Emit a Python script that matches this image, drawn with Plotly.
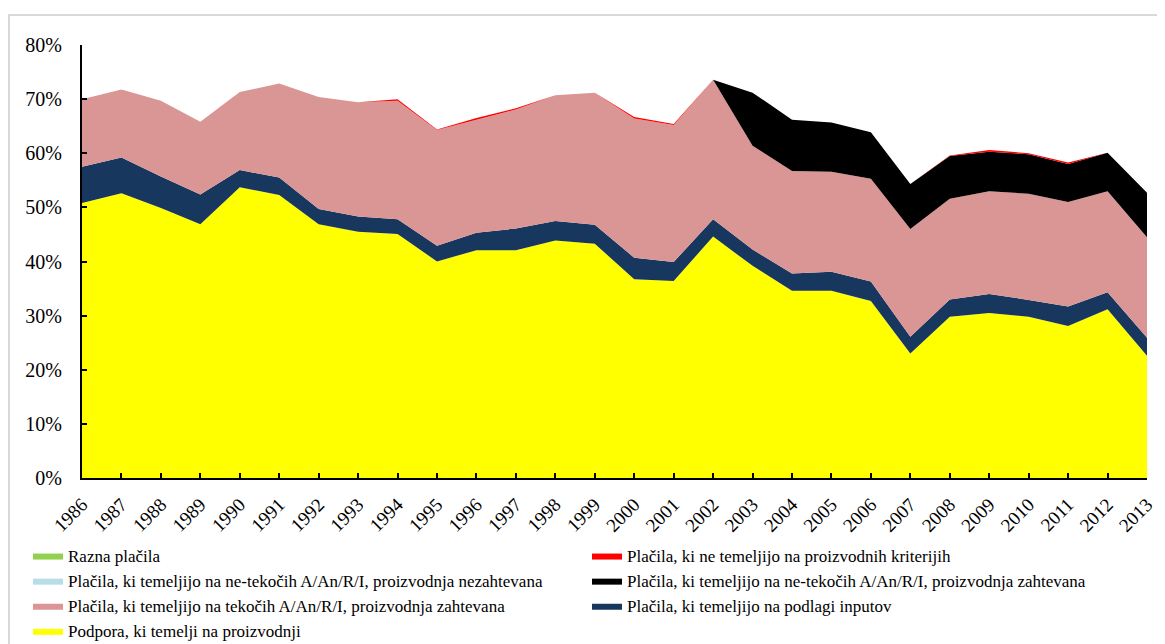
import plotly.graph_objects as go

years = list(range(1986, 2014))
tick_labels = [str(y) for y in years]

# Series values (% share)
podpora = [50.8, 52.6, 49.9, 46.9, 53.7, 52.3, 46.9, 45.5, 45.1, 40.0, 42.1, 42.1, 43.9, 43.3,
           36.7, 36.4, 44.6, 39.2, 34.6, 34.6, 32.7, 23.0, 29.8, 30.5, 29.8, 28.1, 31.2, 22.6]
inputi = [6.7, 6.6, 5.8, 5.5, 3.2, 3.2, 2.8, 2.8, 2.7, 2.9, 3.2, 4.0, 3.6, 3.5,
          4.0, 3.5, 3.2, 3.0, 3.2, 3.5, 3.6, 3.1, 3.2, 3.5, 3.1, 3.6, 3.1, 3.3]
tekoci = [12.5, 12.6, 14.0, 13.4, 14.4, 17.4, 20.7, 21.1, 21.9, 21.4, 20.9, 22.0, 23.2, 24.4,
          25.7, 25.3, 25.8, 19.2, 18.9, 18.5, 19.0, 19.9, 18.6, 19.0, 19.6, 19.3, 18.7, 18.6]
netekoci_zaht = [0, 0, 0, 0, 0, 0, 0, 0, 0, 0, 0, 0, 0, 0,
                 0, 0, 0, 9.8, 9.5, 9.1, 8.6, 8.3, 7.9, 7.3, 7.3, 7.0, 7.1, 8.2]
netekoci_nezaht = [0] * 28
ne_proizv = [0, 0, 0, 0, 0, 0, 0, 0, 0.3, 0.1, 0.3, 0.2, 0, 0,
             0.3, 0.2, 0, 0, 0, 0, 0, 0, 0.1, 0.3, 0.2, 0.3, 0, 0]
razna = [0] * 28

series = [
    ("Podpora, ki temelji na proizvodnji", podpora, "#FFFF00", 7),
    ("Plačila, ki temeljijo na podlagi inputov", inputi, "#17375E", 6),
    ("Plačila, ki temeljijo na tekočih A/An/R/I, proizvodnja zahtevana", tekoci, "#D99694", 5),
    ("Plačila, ki temeljijo na ne-tekočih A/An/R/I, proizvodnja zahtevana", netekoci_zaht, "#000000", 4),
    ("Plačila, ki temeljijo na ne-tekočih A/An/R/I, proizvodnja nezahtevana", netekoci_nezaht, "#B7DEE8", 3),
    ("Plačila, ki ne temeljijo na proizvodnih kriterijih", ne_proizv, "#FF0000", 2),
    ("Razna plačila", razna, "#92D050", 1),
]

fig = go.Figure()
for name, vals, color, rank in series:
    fig.add_trace(go.Scatter(
        x=years, y=vals, name=name, mode="lines", stackgroup="one",
        line=dict(width=0, color=color), fillcolor=color, legendrank=rank,
    ))

# page has an 8px body margin; figure fills the rest of the viewport
OFF = 8
W, H = 1157, 636
L, R, T, B = 74, 18, 37, 166
pw, ph = W - L - R, H - T - B

def px_x(p):  # page pixel -> paper x
    return (p - OFF - L) / pw

def px_y(p):  # page pixel -> paper y
    return (OFF + H - B - p) / ph

serif = "Liberation Serif"

fig.update_layout(
    width=W, height=H,
    margin=dict(l=L, r=R, t=T, b=B, autoexpand=False),
    paper_bgcolor="white", plot_bgcolor="white",
    font=dict(family=serif, color="black", size=19),
    showlegend=True,
    legend=dict(
        orientation="h", traceorder="normal",
        x=px_x(28), y=px_y(538), xanchor="left", yanchor="top",
        font=dict(family=serif, size=17, color="black"),
        entrywidth=514, entrywidthmode="pixels",
        itemwidth=30, bgcolor="rgba(0,0,0,0)",
    ),
    xaxis=dict(
        range=[1986, 2013], tickmode="array", tickvals=years, ticktext=tick_labels,
        tickangle=-45, ticks="inside", ticklen=5, tickwidth=1.5, tickcolor="black",
        showline=True, linecolor="black", linewidth=2, showgrid=False, zeroline=False,
        tickfont=dict(family=serif, size=19), ticklabelstandoff=6, automargin=False,
    ),
    yaxis=dict(
        range=[0, 80], tickmode="linear", tick0=0, dtick=10, ticksuffix="%",
        ticks="inside", ticklen=5, tickwidth=1.5, tickcolor="black",
        showline=True, linecolor="black", linewidth=2, showgrid=False, zeroline=False,
        tickfont=dict(family=serif, size=20), ticklabelstandoff=14, automargin=False,
    ),
    shapes=[dict(
        type="rect", xref="paper", yref="paper",
        x0=px_x(9), x1=px_x(1200), y0=px_y(700), y1=px_y(15),
        line=dict(color="#D9D9D9", width=2), fillcolor="rgba(0,0,0,0)", layer="below",
    )],
)

fig.write_html("out.html")
